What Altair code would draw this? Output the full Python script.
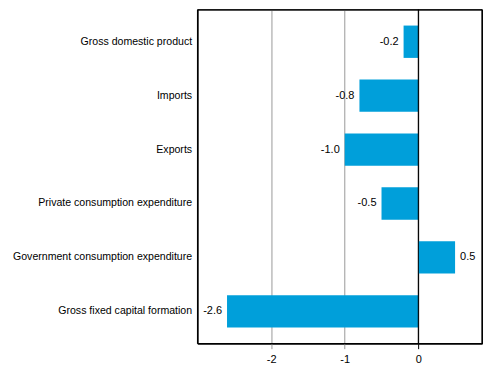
import altair as alt
import pandas as pd

categories = [
    "Gross domestic product",
    "Imports",
    "Exports",
    "Private consumption expenditure",
    "Government consumption expenditure",
    "Gross fixed capital formation",
]
values = [-0.2, -0.8, -1.0, -0.5, 0.5, -2.6]
tick_values = [-2, -1, 0]

df = pd.DataFrame({"category": categories, "value": values})
df["label"] = [f"{v:.1f}" for v in values]

font = "Liberation Sans"
W, H = 285, 335

x = alt.X(
    "value:Q",
    scale=alt.Scale(domain=[-3, 0.866], nice=False, zero=False),
    axis=alt.Axis(
        values=tick_values,
        title=None,
        format="d",
        labelExpr="replace(datum.label, '\u2212', '-')",
        grid=True,
        gridColor=alt.condition("datum.value == 0", alt.value("black"), alt.value("#999999")),
        tickColor=alt.condition("datum.value == 0", alt.value("black"), alt.value("#999999")),
        tickSize=5,
        domain=False,
        labelFont=font,
        labelFontSize=11,
        labelColor="black",
        labelPadding=5,
    ),
)
y = alt.Y(
    "category:N",
    sort=categories,
    scale=alt.Scale(paddingInner=0.4, paddingOuter=0.3),
    axis=alt.Axis(
        title=None,
        ticks=False,
        domain=False,
        labelFont=font,
        labelFontSize=10.6,
        labelColor="black",
        labelPadding=6,
        labelLimit=300,
    ),
)

base = alt.Chart(df)

bars = base.mark_bar(color="#009FDA").encode(x=x, y=y)

neg_text = base.transform_filter("datum.value < 0").mark_text(
    align="right", dx=-5, font=font, fontSize=11, color="black"
).encode(x=alt.X("value:Q"), y=alt.Y("category:N", sort=categories), text="label:N")

pos_text = base.transform_filter("datum.value >= 0").mark_text(
    align="left", dx=5, font=font, fontSize=11, color="black"
).encode(x=alt.X("value:Q"), y=alt.Y("category:N", sort=categories), text="label:N")

zero_rule = alt.Chart(pd.DataFrame({"z": [0]})).mark_rule(color="black", strokeWidth=1).encode(x="z:Q")

def edge(**enc):
    return alt.Chart(pd.DataFrame({"f": [0]})).mark_rule(color="black", strokeWidth=1.3).encode(**enc)

frame_top = edge(x=alt.value(0), x2=alt.value(W), y=alt.value(0.5))
frame_bottom = edge(x=alt.value(0), x2=alt.value(W), y=alt.value(H))
frame_left = edge(x=alt.value(0), y=alt.value(0), y2=alt.value(H))
frame_right = edge(x=alt.value(W), y=alt.value(0), y2=alt.value(H))

chart = (
    alt.layer(bars, neg_text, pos_text, zero_rule,
              frame_top, frame_bottom, frame_left, frame_right)
    .properties(
        width=W,
        height=H,
        background="white",
        autosize=alt.AutoSizeParams(type="none"),
        padding={"left": 190, "top": 1, "right": 1, "bottom": 30},
    )
    .configure_view(stroke="black", strokeWidth=1)
)

chart.save("out.html", embed_options={"renderer": "svg", "actions": False})
